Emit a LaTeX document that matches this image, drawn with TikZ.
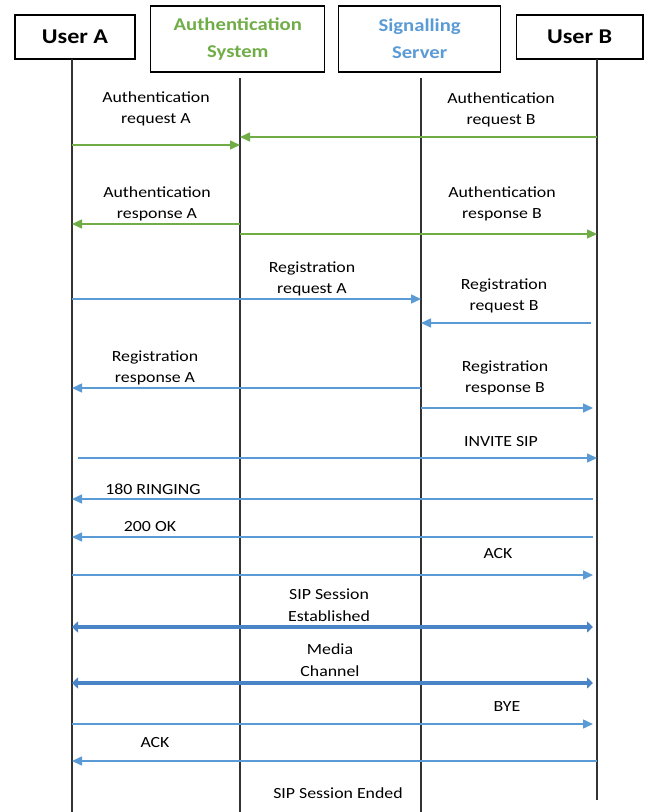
\documentclass[tikz,border=0pt]{standalone}
\usepackage{fontspec}
\setmainfont{Carlito}[FakeStretch=1.15]
\usetikzlibrary{arrows.meta,positioning}
\definecolor{authgreen}{RGB}{112,173,71}
\definecolor{sigblue}{RGB}{91,155,213}
\definecolor{sessblue}{RGB}{72,132,198}

\begin{document}
\begin{tikzpicture}[x=1pt,y=1pt,
	actor/.style={draw,line width=1.3pt,minimum height=44pt,inner sep=2pt,font=\fontsize{21}{25}\selectfont\bfseries},
	server/.style={draw,line width=1.3pt,minimum height=66pt,inner sep=2pt,align=center,font=\fontsize{18}{27}\selectfont\bfseries},
	life/.style={line width=1.2pt,black!80},
	msg/.style={align=center,inner sep=1pt,font=\fontsize{15.5}{21.5}\selectfont},
	authmsg/.style={-{Triangle[length=10pt,width=9pt]},line width=1.5pt,authgreen},
	regmsg/.style={-{Triangle[length=10pt,width=9pt]},line width=1.5pt,sigblue},
	sess/.style={{Triangle[length=6pt,width=11pt]}-{Triangle[length=6pt,width=11pt]},line width=4.5pt,sessblue}]
		\useasboundingbox (0,0) rectangle (647,-812);

		\node[actor,minimum width=120pt] (ua) at (75,-37) {User A};
		\node[server,minimum width=174pt,right=14.5pt of ua,yshift=-2pt,text=authgreen] (as) {Authentication\\System};
		\node[server,minimum width=162pt,right=12.5pt of as,text=sigblue] (ss) {Signalling\\Server};
		\node[actor,minimum width=126.5pt,right=14.5pt of ss,yshift=2pt] (ub) {User B};

		\coordinate (la) at (72,-59);
		\coordinate (lau) at (240,-78);
		\coordinate (lss) at (421,-78);
		\coordinate (lb) at (597,-59);
		\coordinate (la2) at (72,-812);
		\coordinate (lau2) at (240,-812);
		\coordinate (lss2) at (421,-812);
		\coordinate (lb2) at (597,-800);

		\draw[life] (la) -- (la2);
		\draw[life] (lau) -- (lau2);
		\draw[life] (lss) -- (lss2);
		\draw[life] (lb) -- (lb2);

		\node[msg] (m1) at (156,-109) {Authentication\\request A};
		\node[msg] (m2) at (501,-110) {Authentication\\request B};
		\node[msg] (m3) at (157,-204) {Authentication\\response A};
		\node[msg] (m4) at (502,-204) {Authentication\\response B};
		\node[msg] (m5) at (312,-279) {Registration\\request A};
		\node[msg] (m6) at (504,-296) {Registration\\request B};
		\node[msg] (m7) at (155,-368) {Registration\\response A};
		\node[msg] (m8) at (505,-378) {Registration\\response B};
		\node[msg] (m9) at (501,-442) {INVITE SIP};
		\node[msg] (m10) at (153,-489) {180 RINGING};
		\node[msg] (m11) at (150,-527) {200 OK};
		\node[msg] (m12) at (498,-554) {ACK};
		\node[msg] (m13) at (329,-605) {SIP Session\\Established};
		\node[msg] (m14) at (330,-660) {Media\\Channel};
		\node[msg] (m15) at (507,-707) {BYE};
		\node[msg] (m16) at (155,-743) {ACK};
		\node[msg] (m17) at (338,-793) {SIP Session Ended};

		\coordinate (r1) at (0,-145);
		\coordinate (r2) at (0,-137);
		\coordinate (r3) at (0,-224);
		\coordinate (r4) at (0,-234);
		\coordinate (r5) at (0,-299);
		\coordinate (r6) at (0,-323);
		\coordinate (r7) at (0,-388);
		\coordinate (r8) at (0,-408);
		\coordinate (r9) at (0,-458);
		\coordinate (r10) at (0,-499);
		\coordinate (r11) at (0,-537);
		\coordinate (r12) at (0,-575);
		\coordinate (r13) at (0,-627);
		\coordinate (r14) at (0,-683);
		\coordinate (r15) at (0,-724);
		\coordinate (r16) at (0,-761);

		\draw[authmsg] (la |- r1) -- (lau |- r1);
		\draw[authmsg] (lb |- r2) -- (lau |- r2);
		\draw[authmsg] (lau |- r3) -- (la |- r3);
		\draw[authmsg] (lau |- r4) -- (lb |- r4);

		\draw[regmsg] (la |- r5) -- (lss |- r5);
		\draw[regmsg] ([xshift=-6pt]lb |- r6) -- (lss |- r6);
		\draw[regmsg] (lss |- r7) -- (la |- r7);
		\draw[regmsg] (lss |- r8) -- ([xshift=-4pt]lb |- r8);
		\draw[regmsg] ([xshift=6pt]la |- r9) -- (lb |- r9);
		\draw[regmsg] ([xshift=-4pt]lb |- r10) -- (la |- r10);
		\draw[regmsg] ([xshift=-4pt]lb |- r11) -- (la |- r11);
		\draw[regmsg] (la |- r12) -- ([xshift=-4pt]lb |- r12);

		\draw[sess] (la |- r13) -- ([xshift=-4pt]lb |- r13);
		\draw[sess] (la |- r14) -- ([xshift=-4pt]lb |- r14);

		\draw[regmsg] (la |- r15) -- ([xshift=-4pt]lb |- r15);
		\draw[regmsg] (lb |- r16) -- (la |- r16);
	\end{tikzpicture}
\end{document}
